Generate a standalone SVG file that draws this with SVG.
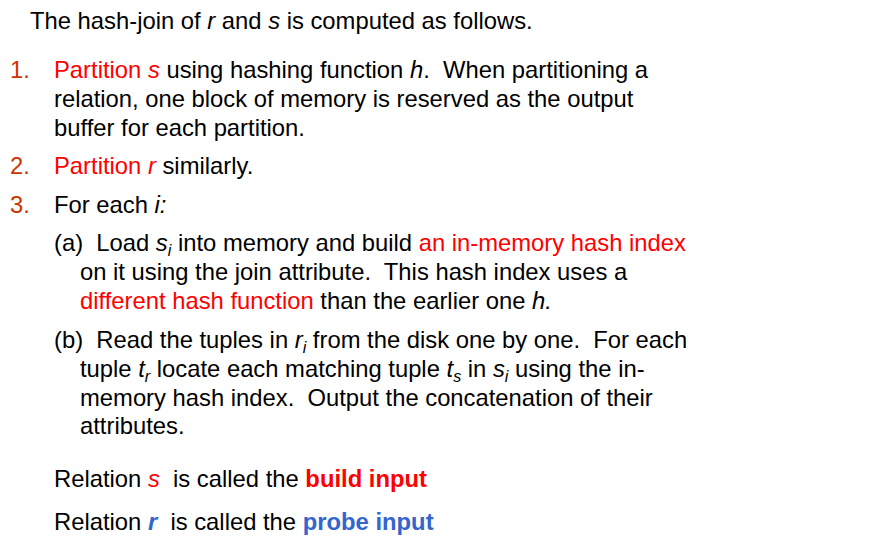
<svg xmlns="http://www.w3.org/2000/svg" width="893" height="538" viewBox="0 0 893 538" xml:space="preserve">
<style>
text{font-family:"Liberation Sans",Arial,sans-serif;font-size:23.8px;fill:#000;white-space:pre}
.r{fill:#FF0000}.n{fill:#CC3300}.b{fill:#3366CC}.i{font-style:italic}.bd{font-weight:bold}
.sub{font-size:16px;font-style:italic}
</style>
<rect width="893" height="538" fill="#fff"/>
<text x="30" y="29">The hash-join of <tspan class="i">r</tspan> and <tspan class="i">s</tspan> is computed as follows.</text>
<text x="10" y="78" class="n">1.</text>
<text x="54" y="78"><tspan class="r">Partition <tspan class="i">s</tspan></tspan> using hashing function <tspan class="i">h</tspan>.  When partitioning a</text>
<text x="54" y="107">relation, one block of memory is reserved as the output</text>
<text x="54" y="136">buffer for each partition.</text>
<text x="10" y="174" class="n">2.</text>
<text x="54" y="174"><tspan class="r">Partition <tspan class="i">r</tspan></tspan> similarly.</text>
<text x="10" y="213" class="n">3.</text>
<text x="54" y="213">For each <tspan class="i">i:</tspan></text>
<text x="54" y="251">(a)  Load <tspan class="i">s</tspan><tspan class="sub" dy="5">i</tspan><tspan dy="-5"> into memory and build </tspan><tspan class="r">an in-memory hash index</tspan></text>
<text x="80" y="280">on it using the join attribute.  This hash index uses a</text>
<text x="80" y="309"><tspan class="r">different hash function</tspan> than the earlier one <tspan class="i">h.</tspan></text>
<text x="54" y="348">(b)  Read the tuples in <tspan class="i">r</tspan><tspan class="sub" dy="5">i</tspan><tspan dy="-5"> from the disk one by one.  For each</tspan></text>
<text x="80" y="377">tuple <tspan class="i">t</tspan><tspan class="sub" dy="5">r</tspan><tspan dy="-5"> locate each matching tuple </tspan><tspan class="i">t</tspan><tspan class="sub" dy="5">s</tspan><tspan dy="-5"> in </tspan><tspan class="i">s</tspan><tspan class="sub" dy="5">i</tspan><tspan dy="-5"> using the in-</tspan></text>
<text x="80" y="406">memory hash index.  Output the concatenation of their</text>
<text x="80" y="434">attributes.</text>
<text x="54" y="487">Relation <tspan class="r i">s</tspan>  is called the <tspan class="r bd">build input</tspan></text>
<text x="54" y="530">Relation <tspan class="b i bd">r</tspan>  is called the <tspan class="b bd">probe input</tspan></text>
</svg>
